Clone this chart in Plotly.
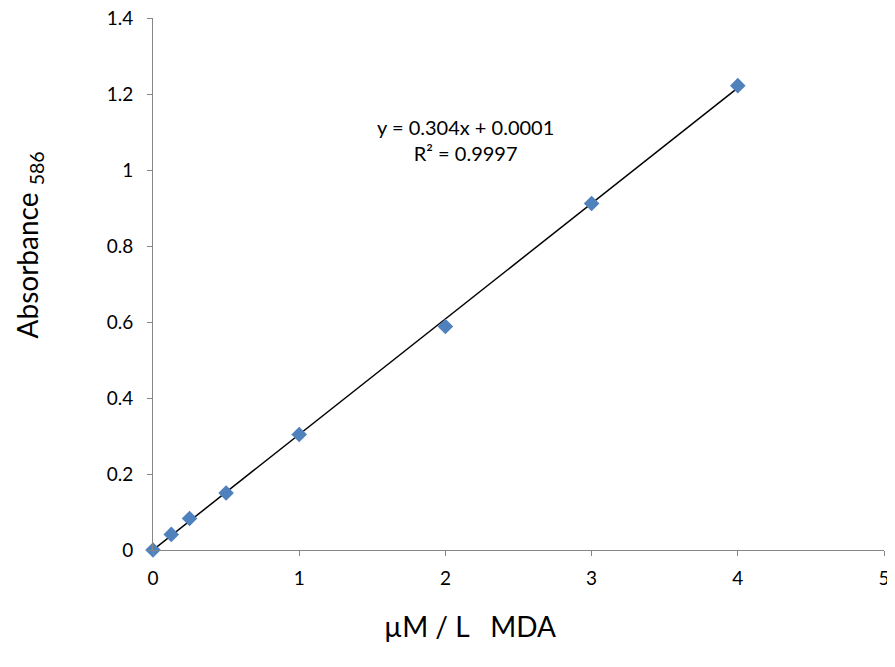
import plotly.graph_objects as go

conc = [0, 0.125, 0.25, 0.5, 1, 2, 3, 4]
absorb = [0.0, 0.041, 0.083, 0.150, 0.304, 0.588, 0.912, 1.222]
slope = 0.304
intercept = 0.0001
fit_x = [min(conc), max(conc)]
fit_y = [slope * x + intercept for x in fit_x]

FONT = "Lato"

fig = go.Figure()
fig.add_trace(go.Scatter(x=fit_x, y=fit_y, mode="lines", cliponaxis=False,
                         line=dict(color="black", width=1.5), showlegend=False))
fig.add_trace(go.Scatter(x=conc, y=absorb, mode="markers", cliponaxis=False,
                         marker=dict(symbol="diamond", size=12, color="#4F81BD",
                                     line=dict(width=0)), showlegend=False))

axis_common = dict(showgrid=False, zeroline=False, showline=True, linecolor="#868686",
                   linewidth=1, ticks="outside", tickcolor="#868686", ticklen=5,
                   automargin=False, ticklabeloverflow="allow",
                   tickfont=dict(family=FONT, size=19, color="black"))
fig.update_xaxes(range=[0, 5], dtick=1, tick0=0, ticklabelstandoff=6, **axis_common)
fig.update_yaxes(range=[0, 1.4], dtick=0.2, tick0=0, ticklabelstandoff=10, **axis_common)

fig.add_annotation(x=2.14, y=1.08, xref="x", yref="y", showarrow=False,
                   text="y = 0.304x + 0.0001<br>R² = 0.9997",
                   font=dict(family=FONT, size=20, color="black"), align="center")
fig.add_annotation(x=-0.198, y=0.573, xref="paper", yref="paper", showarrow=False,
                   text="Absorbance <sub>586</sub>", textangle=-90,
                   font=dict(family=FONT, size=28, color="black"))
fig.add_annotation(x=0.434, y=-0.179, xref="paper", yref="paper", showarrow=False,
                   text="µM / L   MDA",
                   font=dict(family=FONT, size=28, color="black"))

fig.update_layout(width=887, height=659, margin=dict(l=145, r=11, t=10, b=117),
                  plot_bgcolor="white", paper_bgcolor="white")
fig.write_html("out.html")
